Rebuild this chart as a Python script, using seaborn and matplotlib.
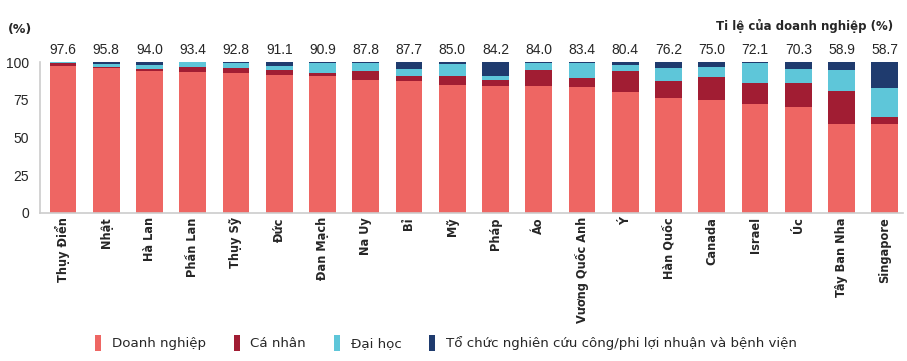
import matplotlib
matplotlib.use("Agg")
import matplotlib.pyplot as plt
from matplotlib.patches import Patch
import numpy as np
import pandas as pd
import seaborn as sns

# --- data ---
countries = ["Thụy Điển", "Nhật", "Hà Lan", "Phần Lan", "Thụy Sỹ", "Đức", "Đan Mạch",
             "Na Uy", "Bỉ", "Mỹ", "Pháp", "Áo", "Vương Quốc Anh", "Ý", "Hàn Quốc",
             "Canada", "Israel", "Úc", "Tây Ban Nha", "Singapore"]
doanh_nghiep = [97.6, 95.8, 94.0, 93.4, 92.8, 91.1, 90.9, 87.8, 87.7, 85.0,
                84.2, 84.0, 83.4, 80.4, 76.2, 75.0, 72.1, 70.3, 58.9, 58.7]
ca_nhan = [1.7, 0.7, 1.6, 3.3, 3.0, 3.8, 2.0, 6.0, 3.0, 5.9,
           4.0, 10.9, 5.7, 13.8, 11.1, 15.2, 14.3, 15.5, 22.2, 4.6]
dai_hoc = [0.5, 2.4, 2.6, 3.3, 3.5, 2.4, 6.7, 5.8, 4.9, 7.8,
           2.7, 4.4, 10.0, 4.0, 8.9, 6.7, 12.7, 9.8, 13.6, 19.8]
to_chuc = [0.2, 1.1, 1.8, 0.0, 0.7, 2.7, 0.4, 0.4, 4.4, 1.3,
           9.1, 0.7, 0.9, 1.8, 3.8, 3.1, 0.9, 4.4, 5.3, 16.9]

series_names = ["Doanh nghiệp", "Cá nhân", "Đại học",
                "Tổ chức nghiên cứu công/phi lợi nhuận và bệnh viện"]
colors = ["#EE6663", "#A11D33", "#5EC6D9", "#1F3B6E"]

df = pd.DataFrame({"country": countries, "dn": doanh_nghiep, "cn": ca_nhan,
                   "dh": dai_hoc, "tc": to_chuc})
df["c1"] = df["dn"]
df["c2"] = df["c1"] + df["cn"]
df["c3"] = df["c2"] + df["dh"]
df["c4"] = df["c3"] + df["tc"]

sns.set_theme(style="white")
plt.rcParams["font.family"] = ["DejaVu Sans"]

fig = plt.figure(figsize=(9.07, 3.61), dpi=100)
ax = fig.add_axes([40 / 907, 1 - 213 / 361, (903 - 40) / 907, (213 - 62) / 361])

# stacked bars drawn as overlapping cumulative totals, top layer first
for col, color in zip(["c4", "c3", "c2", "c1"], colors[::-1]):
    sns.barplot(data=df, x="country", y=col, color=color, width=0.62,
                saturation=1, ax=ax, linewidth=0)

ax.set_ylim(0, 100)
ax.set_xlim(-0.53, 19.42)
ax.set_yticks([0, 25, 50, 75, 100])
ax.tick_params(axis="y", length=0, labelsize=10, pad=8)
ax.tick_params(axis="x", length=0, pad=3)
ax.set_xlabel("")
ax.set_ylabel("")
ax.set_xticks(range(len(countries)))
ax.set_xticklabels(countries, rotation=90, fontsize=9.1, fontweight="bold",
                   fontstretch="condensed")
for lab in ax.get_yticklabels():
    lab.set_fontfamily("Liberation Sans")

for s in ["top", "right"]:
    ax.spines[s].set_visible(False)
for s in ["left", "bottom"]:
    ax.spines[s].set_color("#CCCCCC")
    ax.spines[s].set_linewidth(1.2)

# value labels above the bars
for i, v in enumerate(doanh_nghiep):
    ax.text(i, 103, f"{v:.1f}", ha="center", va="bottom", fontsize=10,
            family="Liberation Sans", clip_on=False)

fig.text(20 / 907, 1 - 30 / 361, "(%)", ha="center", va="center",
         fontsize=9, fontweight="bold")
fig.text(893 / 907, 1 - 26 / 361, "Ti lệ của doanh nghiệp (%)", ha="right",
         va="center", fontsize=8.5, fontweight="bold")

handles = [Patch(facecolor=c, edgecolor="none") for c in colors]
fig.legend(handles, series_names, loc="center left", ncol=4,
           bbox_to_anchor=(83 / 907, 1 - 343 / 361), frameon=False,
           handlelength=0.45, handleheight=1.5, handletextpad=0.8,
           columnspacing=2.1, fontsize=9.6)

fig.savefig("out.png", dpi=100)
